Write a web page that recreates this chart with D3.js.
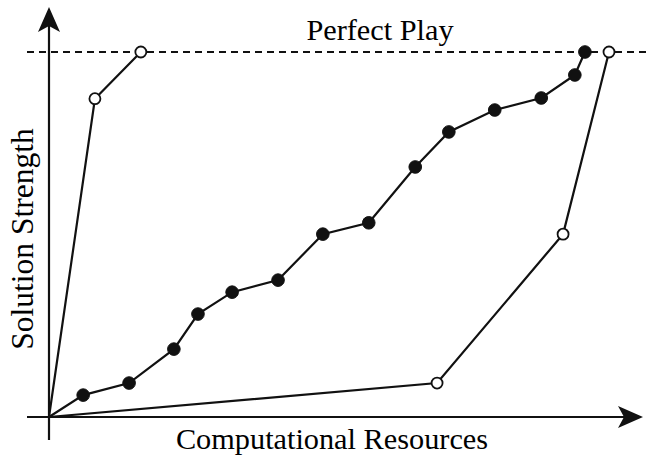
<!DOCTYPE html>
<html><head><meta charset="utf-8">
<script src="https://cdn.jsdelivr.net/npm/d3@7"></script>
<style>body{margin:0;background:#fff}svg{display:block}</style>
</head><body>
<script>
// Data (x: computational resources, y: solution strength, 100 = perfect play)
const filledX = [0, 6.1, 14.3, 22.3, 26.6, 32.7, 40.9, 48.9, 57.1, 65.4, 71.4, 79.6, 87.9, 93.9, 95.7];
const filledY = [0, 6.0, 9.3, 18.6, 28.2, 34.2, 37.5, 50.1, 53.2, 68.5, 78.1, 84.1, 87.4, 93.7, 100];
const upperX = [0, 8.2, 16.4];
const upperY = [0, 87.2, 100];
const lowerX = [0, 69.3, 91.8, 100];
const lowerY = [0, 9.3, 50.1, 100];
const perfectPlay = 100;
const labels = {top: "Perfect Play", x: "Computational Resources", y: "Solution Strength"};

const W = 651, H = 466;
const svg = d3.select("body").append("svg").attr("width", W).attr("height", H);
const x = d3.scaleLinear().domain([0, 100]).range([49, 609]);
const y = d3.scaleLinear().domain([0, 100]).range([417, 52]);
const font = "'Liberation Serif','Times New Roman',serif";

// dashed perfect play line
svg.append("line").attr("x1", 27).attr("x2", W).attr("y1", y(perfectPlay)).attr("y2", y(perfectPlay))
  .attr("stroke", "#111").attr("stroke-width", 2).attr("stroke-dasharray", "7,5");

// axes
svg.append("line").attr("x1", 27).attr("x2", 630).attr("y1", y(0)).attr("y2", y(0))
  .attr("stroke", "#111").attr("stroke-width", 2.2);
svg.append("line").attr("x1", x(0)).attr("x2", x(0)).attr("y1", 440).attr("y2", 20)
  .attr("stroke", "#111").attr("stroke-width", 2.2);
// arrowheads
const x0 = x(0), y0 = y(0);
svg.append("path").attr("d", `M643,${y0} L618,${y0-11} L624,${y0} L618,${y0+11} Z`).attr("fill", "#111");
svg.append("path").attr("d", `M${x0},7 L${x0-11},32 L${x0},26 L${x0+11},32 Z`).attr("fill", "#111");

const line = d3.line().x(d => x(d[0])).y(d => y(d[1]));
function series(xs, ys, filled) {
  const pts = xs.map((v, i) => [v, ys[i]]);
  svg.append("path").attr("d", line(pts)).attr("fill", "none").attr("stroke", "#111").attr("stroke-width", 2.2);
  svg.selectAll(null).data(pts.slice(1)).enter().append("circle")
    .attr("cx", d => x(d[0])).attr("cy", d => y(d[1]))
    .attr("r", filled ? 6.3 : 5.5)
    .attr("fill", filled ? "#111" : "#fff")
    .attr("stroke", "#111").attr("stroke-width", filled ? 1 : 1.8);
}
series(upperX, upperY, false);
series(lowerX, lowerY, false);
series(filledX, filledY, true);

// labels
svg.append("text").attr("x", 380).attr("y", 40).attr("text-anchor", "middle")
  .attr("font-family", font).attr("font-size", 30.3).attr("fill", "#000").text(labels.top);
svg.append("text").attr("x", 332).attr("y", 449).attr("text-anchor", "middle")
  .attr("font-family", font).attr("font-size", 30.3).attr("fill", "#000").text(labels.x);
svg.append("text").attr("transform", "translate(33,239) rotate(-90)").attr("text-anchor", "middle")
  .attr("font-family", font).attr("font-size", 31.5).attr("fill", "#000").text(labels.y);
</script>
</body></html>
